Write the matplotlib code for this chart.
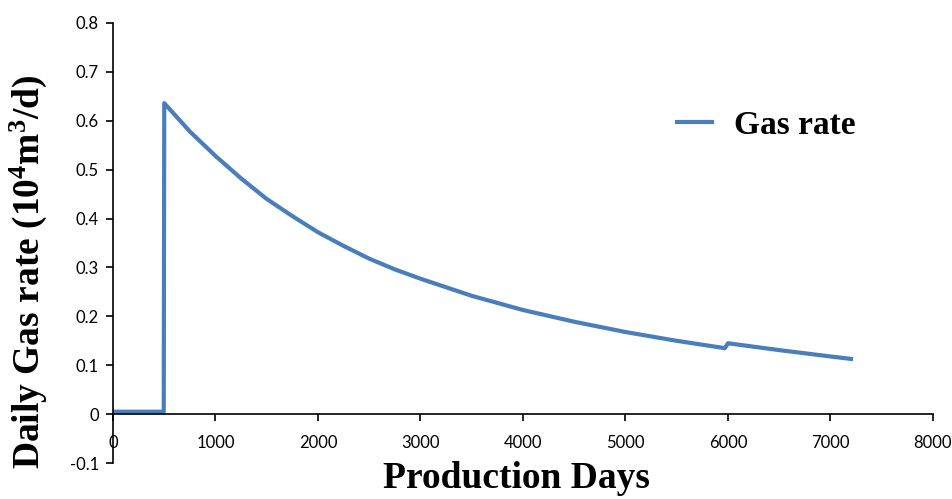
import matplotlib.pyplot as plt

# values
days = [0, 250, 495, 500, 750, 1000, 1250, 1500, 1750, 2000, 2250, 2500, 2750, 3000,
        3500, 4000, 4500, 5000, 5500, 5970, 6000, 6500, 7000, 7200]
gas_rate = [0.005, 0.005, 0.005, 0.636, 0.578, 0.528, 0.482, 0.440, 0.405, 0.372,
            0.344, 0.318, 0.296, 0.277, 0.242, 0.213, 0.189, 0.168, 0.150, 0.135,
            0.145, 0.131, 0.118, 0.113]

x_ticks = [0, 1000, 2000, 3000, 4000, 5000, 6000, 7000, 8000]
y_ticks = [-0.1, 0, 0.1, 0.2, 0.3, 0.4, 0.5, 0.6, 0.7, 0.8]
y_tick_labels = ['-0.1', '0', '0.1', '0.2', '0.3', '0.4', '0.5', '0.6', '0.7', '0.8']

serif = 'Liberation Serif'
tick_font = 'Lato'

plt.rcParams['mathtext.fontset'] = 'custom'
plt.rcParams['mathtext.rm'] = 'Liberation Serif:bold'
plt.rcParams['mathtext.it'] = 'Liberation Serif:bold'
plt.rcParams['mathtext.bf'] = 'Liberation Serif:bold'

fig = plt.figure(figsize=(9.52, 4.99), dpi=100)
ax = fig.add_axes([0.1187, 0.072, 0.8613, 0.882])

ax.plot(days, gas_rate, color='#4a7ebb', linewidth=3, label='Gas rate',
        solid_joinstyle='round')

ax.set_xlim(0, 8000)
ax.set_ylim(-0.1, 0.8)
ax.set_xticks(x_ticks)
ax.set_yticks(y_ticks)
ax.set_yticklabels(y_tick_labels)

ax.spines['top'].set_visible(False)
ax.spines['right'].set_visible(False)
ax.spines['bottom'].set_position(('data', 0))
ax.spines['left'].set_linewidth(1.2)
ax.spines['bottom'].set_linewidth(1.2)
ax.tick_params(axis='both', direction='out', length=5, width=1.2, labelsize=12)
ax.tick_params(axis='x', pad=10)
ax.tick_params(axis='y', pad=5)
for lbl in ax.get_xticklabels() + ax.get_yticklabels():
    lbl.set_fontfamily(tick_font)

fig.text(0.030, 0.455, 'Daily Gas rate (10$^{4}$m$^{3}$/d)', fontfamily=serif,
         fontweight='bold', fontsize=27, rotation=90, ha='center', va='center')
fig.text(0.543, 0.022, 'Production Days', fontfamily=serif, fontweight='bold',
         fontsize=27, ha='center', va='baseline')

ax.legend(loc='center left', bbox_to_anchor=(0.688, 0.768), frameon=False,
          prop={'family': serif, 'weight': 'bold', 'size': 24},
          handlelength=1.06, handletextpad=0.64, borderpad=0, borderaxespad=0)

fig.savefig('out.png', dpi=100)
